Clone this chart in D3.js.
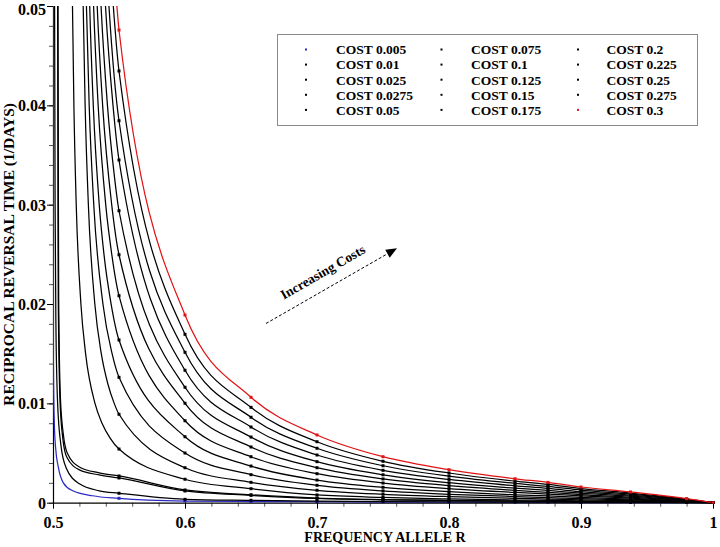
<!DOCTYPE html>
<html><head><meta charset="utf-8">
<script src="https://cdn.jsdelivr.net/npm/d3@7"></script>
<style>
body{margin:0;background:#fff}
svg{display:block}
text{font-family:"Liberation Serif","Times New Roman",serif;font-weight:bold;fill:#000}
</style>
</head><body>
<svg id="chart" width="720" height="547"></svg>
<script>
// ---- data ----
const costs = [0.005, 0.01, 0.025, 0.0275, 0.05, 0.075, 0.1, 0.125, 0.15, 0.175, 0.2, 0.225, 0.25, 0.275, 0.3];
const costLabels = ["COST 0.005","COST 0.01","COST 0.025","COST 0.0275","COST 0.05","COST 0.075","COST 0.1","COST 0.125","COST 0.15","COST 0.175","COST 0.2","COST 0.225","COST 0.25","COST 0.275","COST 0.3"];
const seriesColors = ["#2b2bc4","#000","#000","#000","#000","#000","#000","#000","#000","#000","#000","#000","#000","#000","#e01414"];
// frequencies where the points are marked
const markX = [0.55, 0.6, 0.65, 0.7, 0.75, 0.8, 0.85, 0.875, 0.9, 0.9375, 0.98, 1];
// reciprocal reversal time at markX, one row per cost
const markY = [
  [0.00044,0.00017,0.00012,0.00010,0.00007,0.00005,0.00004,0.00003,0.00002,0.00002,0.00001,0],
  [0.00095,0.00034,0.00024,0.00017,0.00012,0.00008,0.00006,0.00005,0.00004,0.00003,0.00001,0],
  [0.00249,0.00118,0.00074,0.00043,0.00029,0.00021,0.00015,0.00013,0.00010,0.00007,0.00003,0],
  [0.00269,0.00128,0.00080,0.00047,0.00032,0.00023,0.00017,0.00014,0.00011,0.00007,0.00003,0],
  [0.00540,0.00236,0.00141,0.00078,0.00053,0.00038,0.00027,0.00023,0.00018,0.00012,0.00005,0],
  [0.00890,0.00352,0.00205,0.00125,0.00085,0.00061,0.00044,0.00037,0.00029,0.00020,0.00007,0],
  [0.01262,0.00500,0.00282,0.00175,0.00119,0.00085,0.00062,0.00052,0.00041,0.00028,0.00010,0],
  [0.01638,0.00664,0.00369,0.00228,0.00155,0.00111,0.00080,0.00068,0.00053,0.00036,0.00013,0],
  [0.02084,0.00825,0.00463,0.00292,0.00198,0.00142,0.00103,0.00087,0.00068,0.00046,0.00017,0],
  [0.02496,0.01001,0.00561,0.00352,0.00239,0.00171,0.00124,0.00105,0.00082,0.00056,0.00021,0],
  [0.02939,0.01162,0.00661,0.00413,0.00281,0.00201,0.00146,0.00124,0.00096,0.00065,0.00024,0],
  [0.03450,0.01333,0.00762,0.00480,0.00326,0.00234,0.00170,0.00144,0.00111,0.00076,0.00028,0],
  [0.03845,0.01514,0.00860,0.00548,0.00372,0.00267,0.00194,0.00164,0.00127,0.00087,0.00032,0],
  [0.04346,0.01695,0.00960,0.00614,0.00417,0.00299,0.00217,0.00184,0.00142,0.00097,0.00036,0],
  [0.04758,0.01889,0.01061,0.00682,0.00463,0.00332,0.00241,0.00204,0.00158,0.00108,0.00040,0]
];
// steep part of each curve left of 0.55, read as [frequency, value]
const leftPts = [
  [[0.50015,0.05],[0.5002,0.03],[0.5003,0.014],[0.501,0.008],[0.502,0.0055],[0.504,0.0036],[0.5078,0.002],[0.515,0.0012],[0.53,0.0007]],
  [[0.5012,0.05],[0.5016,0.03],[0.5022,0.018],[0.5035,0.01],[0.506,0.0058],[0.51,0.0035],[0.52,0.0019],[0.535,0.0012]],
  [[0.5035,0.05],[0.5038,0.03],[0.504,0.0204],[0.5053,0.0103],[0.5075,0.0064],[0.5104,0.0046],[0.52,0.0033],[0.535,0.0028]],
  [[0.5038,0.05],[0.5041,0.03],[0.5043,0.0204],[0.5056,0.0106],[0.5079,0.0068],[0.5108,0.005],[0.52,0.0036],[0.535,0.003]],
  [[0.51405,0.06],[0.51476,0.05],[0.51583,0.04],[0.5176,0.03],[0.52115,0.02],[0.5247,0.015],[0.5318,0.01],[0.53713,0.008],[0.54328,0.0065]],
  [[0.5219,0.06],[0.52287,0.05],[0.52434,0.04],[0.52679,0.03],[0.53169,0.02],[0.53658,0.015],[0.54147,0.012],[0.54637,0.01]],
  [[0.52394,0.06],[0.52533,0.05],[0.52741,0.04],[0.53088,0.03],[0.53783,0.02],[0.54477,0.015]],
  [[0.526,0.06],[0.52781,0.05],[0.53051,0.04],[0.53502,0.03],[0.53862,0.025],[0.54403,0.02]],
  [[0.52847,0.06],[0.53076,0.05],[0.5342,0.04],[0.53993,0.03],[0.54452,0.025]],
  [[0.53073,0.06],[0.53348,0.05],[0.5376,0.04],[0.54447,0.03]],
  [[0.53317,0.06],[0.5364,0.05],[0.54125,0.04],[0.54639,0.033]],
  [[0.53598,0.06],[0.53977,0.05],[0.54546,0.04]],
  [[0.53815,0.06],[0.54238,0.05]],
  [[0.5409,0.06],[0.54568,0.05]],
  [[0.54317,0.06],[0.5484,0.05]]
];
const xTicks = [0.5, 0.6, 0.7, 0.8, 0.9, 1];
const yTicks = [0, 0.01, 0.02, 0.03, 0.04, 0.05];
const xTitle = "FREQUENCY ALLELE R";
const yTitle = "RECIPROCAL REVERSAL TIME (1/DAYS)";
const arrowText = "Increasing Costs";

// ---- layout ----
const svg = d3.select("#chart");
const L = 53, R = 713, T = 6, B = 502.7;
const x = d3.scaleLinear().domain([0.5, 1]).range([L, R]);
const y = d3.scaleLinear().domain([0, 0.05]).range([B, T]);

svg.append("defs").append("clipPath").attr("id","plot")
  .append("rect").attr("x", L).attr("y", T).attr("width", R - L + 2).attr("height", B - T + 1);

// minor ticks
const xMinor = d3.range(0.5, 1.0001, 0.02);
const yMinor = d3.range(0, 0.05001, 0.002);
svg.append("g").attr("transform", `translate(0,${B})`)
  .call(d3.axisBottom(x).tickValues(xMinor).tickSize(4).tickFormat(""))
  .call(g => g.select(".domain").remove())
  .selectAll("line").attr("stroke", "#555");
svg.append("g").attr("transform", `translate(${L},0)`)
  .call(d3.axisLeft(y).tickValues(yMinor).tickSize(4).tickFormat(""))
  .call(g => g.select(".domain").remove())
  .selectAll("line").attr("stroke", "#555");

// major axes
const fmt = d => d === 0 ? "0" : (d === 1 ? "1" : String(+d.toFixed(3)));
const xAxis = svg.append("g").attr("transform", `translate(0,${B})`)
  .call(d3.axisBottom(x).tickValues(xTicks).tickSize(6).tickPadding(4).tickSizeOuter(0).tickFormat(fmt));
const yAxis = svg.append("g").attr("transform", `translate(${L},0)`)
  .call(d3.axisLeft(y).tickValues(yTicks).tickSize(6).tickPadding(1).tickSizeOuter(0).tickFormat(fmt));
[xAxis, yAxis].forEach(g => {
  g.selectAll("text").attr("font-size", 16).attr("font-family", "Liberation Serif").attr("font-weight", "bold").attr("fill", "#000");
  g.select(".domain").attr("stroke", "#000").attr("stroke-width", 1.2);
  g.selectAll(".tick line").attr("stroke", "#000");
});
xAxis.selectAll("text").attr("dy", "0.95em");
yAxis.selectAll("text").attr("dy", "0.34em");
// keep the top label inside the picture
yAxis.selectAll(".tick").filter(d => d === 0.05).select("text").attr("dy", "0.55em");

// axis titles
svg.append("text").attr("x", 385).attr("y", 542).attr("text-anchor", "middle")
  .attr("font-size", 14).text(xTitle);
svg.append("text").attr("transform", `translate(14,${(T + B) / 2}) rotate(-90)`)
  .attr("text-anchor", "middle").attr("font-size", 15.5).text(yTitle);

// curves
const line = d3.line().x(d => x(d[0])).y(d => y(d[1])).curve(d3.curveMonotoneX);
const gCurves = svg.append("g").attr("clip-path", "url(#plot)");
costs.forEach((c, i) => {
  const pts = leftPts[i].concat(markX.map((mx, j) => [mx, markY[i][j]]));
  gCurves.append("path").datum(pts).attr("d", line)
    .attr("fill", "none").attr("stroke", seriesColors[i]).attr("stroke-width", 1.25);
});
costs.forEach((c, i) => {
  gCurves.append("g").selectAll("rect")
    .data(markX.map((mx, j) => [mx, markY[i][j]]))
    .join("rect")
    .attr("x", d => x(d[0]) - 1.5).attr("y", d => y(d[1]) - 1.5)
    .attr("width", 3).attr("height", 3)
    .attr("fill", seriesColors[i]);
});

// legend
const lg = svg.append("g");
lg.append("rect").attr("x", 277.5).attr("y", 34.5).attr("width", 420).attr("height", 91)
  .attr("fill", "#fff").attr("stroke", "#8a8a8a").attr("stroke-width", 1);
const colX = [306, 441.5, 578], textX = [336, 471, 606.5];
costLabels.forEach((lab, i) => {
  const col = Math.floor(i / 5), row = i % 5;
  const cy = 49.5 + row * 15.1;
  lg.append("rect").attr("x", colX[col] - 1).attr("y", cy - 1).attr("width", 2).attr("height", 2)
    .attr("fill", seriesColors[i]);
  lg.append("text").attr("x", textX[col]).attr("y", cy + 4.8).attr("font-size", 13.5).text(lab);
});

// increasing-cost arrow
const a0 = [266, 323.5], a1 = [397, 248.3];
const ang = Math.atan2(a1[1] - a0[1], a1[0] - a0[0]);
const ux = Math.cos(ang), uy = Math.sin(ang);
const headL = 11, headW = 4.5;
const bx = a1[0] - ux * headL, by = a1[1] - uy * headL;
svg.append("line").attr("x1", a0[0]).attr("y1", a0[1]).attr("x2", bx).attr("y2", by)
  .attr("stroke", "#000").attr("stroke-width", 1).attr("stroke-dasharray", "3,2");
svg.append("path")
  .attr("d", `M${a1[0]},${a1[1]}L${bx - uy * headW},${by + ux * headW}L${bx + uy * headW},${by - ux * headW}Z`)
  .attr("fill", "#000");
svg.append("text").attr("transform", `translate(325,276) rotate(${ang * 180 / Math.PI})`)
  .attr("text-anchor", "middle").attr("font-size", 13.5).text(arrowText);
</script>
</body></html>
